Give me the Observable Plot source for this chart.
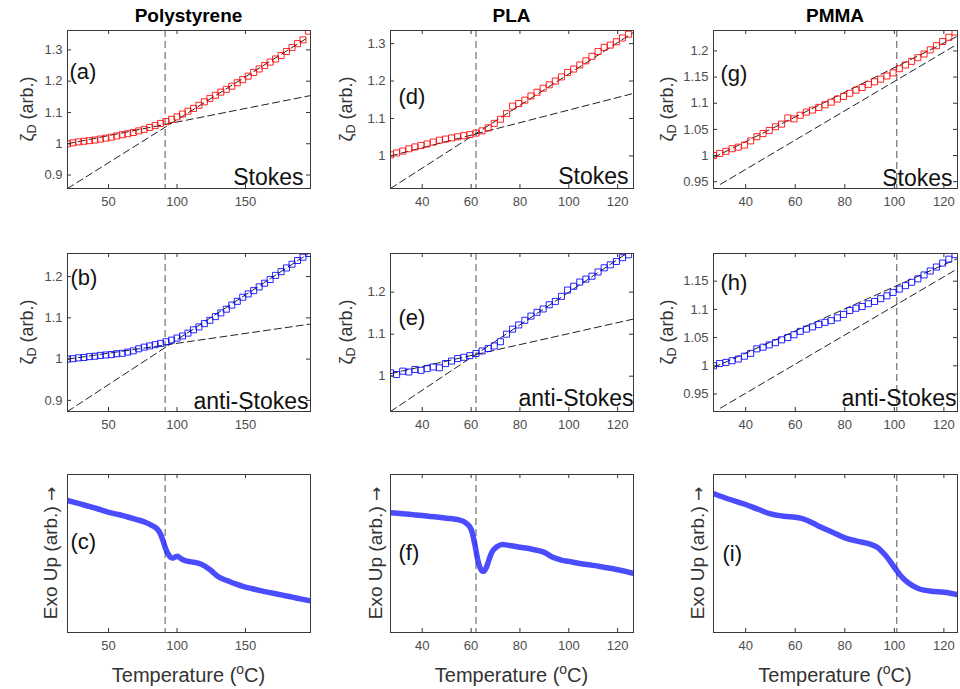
<!DOCTYPE html>
<html>
<head>
<meta charset="utf-8">
<script src="https://cdn.jsdelivr.net/npm/d3@7"></script>
<script src="https://cdn.jsdelivr.net/npm/@observablehq/plot@0.6"></script>
<style>
  html, body { margin: 0; padding: 0; background: #fff; overflow: hidden; }
  #root { position: relative; width: 960px; height: 689px; overflow: hidden; font-family: "Liberation Sans", Arial, sans-serif; }
  .abs { position: absolute; white-space: nowrap; }
  .title { font-weight: bold; font-size: 19px; color: #000; transform: translate(-50%, -50%); }
  .ylab { font-size: 18px; color: #333; transform: translate(-50%, -50%) rotate(-90deg); }
  .xlab { font-size: 20px; color: #333; transform: translate(-50%, -50%); }
  .arrow { font-family: "DejaVu Sans", sans-serif; color: #333; font-size: 17px; }
  sub { font-size: 70%; vertical-align: -0.3em; }
  sup { font-size: 70%; vertical-align: 0.55em; }
</style>
</head>
<body>
<div id="root"></div>
<script>
// ---------------- data ----------------
const materials = ["Polystyrene", "PLA", "PMMA"];
const panelLetters = ["(a)", "(b)", "(c)", "(d)", "(e)", "(f)", "(g)", "(h)", "(i)"];
const ramanTags = ["Stokes", "anti-Stokes"];

// glass transition temperatures (vertical dashed lines)
const psTg = 91.3, plaTg = 62, pmmaTg = 101;

// x tick labels
const psXTicks = [50, 100, 150];
const plaXTicks = [40, 60, 80, 100, 120];
const pmmaXTicks = [40, 60, 80, 100, 120];

// y tick labels
const aYTicks = [0.9, 1, 1.1, 1.2, 1.3];
const bYTicks = [0.9, 1, 1.1, 1.2];
const dYTicks = [1, 1.1, 1.2, 1.3];
const eYTicks = [1, 1.1, 1.2];
const gYTicks = [0.95, 1, 1.05, 1.1, 1.15, 1.2];
const hYTicks = [0.95, 1, 1.05, 1.1, 1.15];

// Polystyrene Raman (temperature, zeta_D)
const psT = [20,24,28,32,36,40,44,48,52,56,60,64,68,72,76,80,84,88,92,96,100,104,108,112,116,120,124,128,132,136,140,144,148,152,156,160,164,168,172,176,180,184,188,192,196];
const psStokes = [1.000,1.003,1.006,1.008,1.010,1.012,1.015,1.018,1.021,1.025,1.029,1.032,1.036,1.041,1.046,1.052,1.058,1.065,1.071,1.078,1.086,1.095,1.104,1.113,1.123,1.134,1.145,1.155,1.165,1.174,1.184,1.195,1.205,1.216,1.228,1.239,1.250,1.261,1.271,1.282,1.295,1.308,1.320,1.332,1.360];
const psAnti = [1.000,1.001,1.003,1.004,1.006,1.007,1.009,1.010,1.011,1.013,1.014,1.017,1.020,1.025,1.029,1.032,1.035,1.038,1.042,1.046,1.051,1.056,1.063,1.071,1.078,1.086,1.094,1.103,1.112,1.121,1.131,1.140,1.150,1.158,1.166,1.175,1.184,1.193,1.203,1.212,1.221,1.230,1.239,1.247,1.256];

// PLA Raman
const plaT = [27,29.5,32,34.5,37,39.5,42,44.5,47,49.5,52,54.5,57,59.5,62,64.5,67,69.5,72,74.5,77,79.5,82,84.5,87,89.5,92,94.5,97,99.5,102,104.5,107,109.5,112,114.5,117,119.5,122,124.5];
const plaStokes = [1.003,1.008,1.013,1.019,1.024,1.028,1.032,1.037,1.042,1.045,1.048,1.051,1.054,1.057,1.061,1.067,1.075,1.087,1.098,1.113,1.133,1.140,1.149,1.160,1.170,1.181,1.190,1.200,1.211,1.223,1.232,1.243,1.254,1.266,1.279,1.290,1.296,1.305,1.315,1.325];
const plaAnti = [1.008,1.004,1.012,1.010,1.016,1.014,1.018,1.022,1.020,1.030,1.036,1.042,1.045,1.049,1.054,1.060,1.066,1.072,1.082,1.100,1.112,1.122,1.133,1.143,1.152,1.160,1.170,1.178,1.190,1.205,1.214,1.224,1.231,1.238,1.248,1.258,1.265,1.273,1.282,1.289];

// PMMA Raman
const pmmaT = [27,29.5,32,34.5,37,39.5,42,44.5,47,49.5,52,54.5,57,59.5,62,64.5,67,69.5,72,74.5,77,79.5,82,84.5,87,89.5,92,94.5,97,99.5,102,104.5,107,109.5,112,114.5,117,119.5,122,124.5];
const pmmaStokes = [1.000,1.004,1.008,1.013,1.016,1.020,1.028,1.036,1.042,1.048,1.055,1.060,1.072,1.070,1.077,1.083,1.087,1.092,1.097,1.102,1.108,1.113,1.119,1.125,1.130,1.136,1.141,1.146,1.152,1.158,1.166,1.173,1.180,1.187,1.194,1.202,1.210,1.218,1.226,1.236];
const pmmaAnti = [1.000,1.004,1.006,1.009,1.012,1.017,1.022,1.030,1.033,1.037,1.041,1.046,1.050,1.055,1.061,1.065,1.069,1.073,1.077,1.080,1.085,1.091,1.098,1.102,1.105,1.110,1.114,1.119,1.124,1.130,1.136,1.142,1.148,1.154,1.161,1.168,1.175,1.182,1.189,1.197];

// linear fits (two end points each: [T, zeta])
const psStokesFitLow = [[20, 1.0], [197.5, 1.154]];
const psStokesFitHigh = [[20, 0.857], [194, 1.335]];
const psAntiFitLow = [[20, 1.0], [197.5, 1.085]];
const psAntiFitHigh = [[20, 0.873], [197.5, 1.259]];
const plaStokesFitLow = [[27, 1.0], [126.5, 1.167]];
const plaStokesFitHigh = [[27, 0.913], [126.5, 1.33]];
const plaAntiFitLow = [[27, 1.006], [126.5, 1.136]];
const plaAntiFitHigh = [[27, 0.916], [126.5, 1.303]];
const pmmaStokesFitLow = [[27, 0.996], [125.5, 1.228]];
const pmmaStokesFitHigh = [[29.8, 0.945], [125.5, 1.213]];
const pmmaAntiFitLow = [[27, 0.997], [125.5, 1.19]];
const pmmaAntiFitHigh = [[29.8, 0.925], [125.5, 1.172]];

// DSC traces (temperature, normalised heat flow, exo up)
const psDscT = [20,30,39,45,51,58,64,70,76,80,83,85,86.6,88,89,90,90.8,91.7,92.7,94,95.2,97,98.9,100.5,102.5,104,106,109,112,116,119.6,122,124.5,127,129.4,133,136.6,142,148.8,155,161,167,173,179,185,191,197.5];
const psDsc = [0.836,0.812,0.790,0.775,0.759,0.745,0.731,0.716,0.700,0.685,0.672,0.660,0.643,0.622,0.600,0.575,0.553,0.530,0.510,0.490,0.476,0.472,0.479,0.482,0.470,0.462,0.455,0.449,0.445,0.437,0.423,0.410,0.395,0.375,0.357,0.340,0.328,0.310,0.290,0.277,0.265,0.254,0.244,0.233,0.222,0.211,0.200];
const plaDscT = [27,32,36,40,45,50,53,55,56.5,58,59.2,60.2,61.1,62,62.8,63.6,64.5,65.3,66.2,67,68,69,70.5,72.5,75,80,85,89.5,93,97,100,104.5,110,114.4,120,126.3];
const plaDsc = [0.758,0.752,0.746,0.740,0.732,0.723,0.718,0.713,0.705,0.692,0.675,0.645,0.590,0.520,0.455,0.413,0.390,0.388,0.410,0.445,0.490,0.520,0.542,0.556,0.553,0.540,0.527,0.510,0.480,0.458,0.450,0.437,0.425,0.413,0.397,0.375];
const pmmaDscT = [27.2,33,40,45,50.1,55.4,59.9,62.5,64.9,67.5,69.8,75,80,85,89.9,93.1,96.5,100,102.5,104.9,107.5,109.9,114.9,120,125.4];
const pmmaDsc = [0.878,0.845,0.810,0.780,0.751,0.736,0.730,0.722,0.709,0.690,0.671,0.635,0.599,0.578,0.561,0.540,0.487,0.413,0.361,0.323,0.295,0.277,0.261,0.255,0.240];

// ---------------- layout ----------------
const colX = [67, 390, 713];
const colW = [243, 243, 244];
const rowY = [30, 253, 474];
const rowH = [158, 158, 158];
const fmt = d => String(+d.toFixed(2));
const pts = (xs, ys) => xs.map((t, i) => ({t, v: ys[i]}));
const seg = a => a.map(([t, v]) => ({t, v}));

const panels = [
  {col:0,row:0,kind:"raman",data:pts(psT,psStokes),color:"#ff0000",xd:[20,197.5],yd:[0.857,1.362],xt:psXTicks,yt:aYTicks,tg:psTg,fits:[psStokesFitLow,psStokesFitHigh],lab:panelLetters[0],lp:[2,41],tag:ramanTags[0],tp:[-7,-4]},
  {col:0,row:1,kind:"raman",data:pts(psT,psAnti),color:"#0000ff",xd:[20,197.5],yd:[0.873,1.256],xt:psXTicks,yt:bYTicks,tg:psTg,fits:[psAntiFitLow,psAntiFitHigh],lab:panelLetters[1],lp:[3,24],tag:ramanTags[1],tp:[-2,-3]},
  {col:0,row:2,kind:"dsc",data:pts(psDscT,psDsc),xd:[20,197.5],xt:psXTicks,tg:psTg,lab:panelLetters[2],lp:[3,67]},
  {col:1,row:0,kind:"raman",data:pts(plaT,plaStokes),color:"#ff0000",xd:[27,126.5],yd:[0.913,1.335],xt:plaXTicks,yt:dYTicks,tg:plaTg,fits:[plaStokesFitLow,plaStokesFitHigh],lab:panelLetters[3],lp:[8,66],tag:ramanTags[0],tp:[-5,-5]},
  {col:1,row:1,kind:"raman",data:pts(plaT,plaAnti),color:"#0000ff",xd:[27,126.5],yd:[0.916,1.292],xt:plaXTicks,yt:eYTicks,tg:plaTg,fits:[plaAntiFitLow,plaAntiFitHigh],lab:panelLetters[4],lp:[8,64],tag:ramanTags[1],tp:[0,-6]},
  {col:1,row:2,kind:"dsc",data:pts(plaDscT,plaDsc),xd:[27,126.5],xt:plaXTicks,tg:plaTg,lab:panelLetters[5],lp:[8,78]},
  {col:2,row:0,kind:"raman",data:pts(pmmaT,pmmaStokes),color:"#ff0000",xd:[27,125.5],yd:[0.937,1.239],xt:pmmaXTicks,yt:gYTicks,tg:pmmaTg,fits:[pmmaStokesFitLow,pmmaStokesFitHigh],lab:panelLetters[6],lp:[7,43],tag:ramanTags[0],tp:[-5,-3]},
  {col:2,row:1,kind:"raman",data:pts(pmmaT,pmmaAnti),color:"#0000ff",xd:[27,125.5],yd:[0.919,1.199],xt:pmmaXTicks,yt:hYTicks,tg:pmmaTg,fits:[pmmaAntiFitLow,pmmaAntiFitHigh],lab:panelLetters[7],lp:[7,29],tag:ramanTags[1],tp:[-1,-6]},
  {col:2,row:2,kind:"dsc",data:pts(pmmaDscT,pmmaDsc),xd:[27,125.5],xt:pmmaXTicks,tg:pmmaTg,lab:panelLetters[8],lp:[9,79]}
];

const root = document.getElementById("root");
const mL = 50, mT = 6, mB = 28;

for (const p of panels) {
  const fw = colW[p.col], fh = rowH[p.row];
  const mR = p.col === 2 ? 3 : 6;
  const isR = p.kind === "raman";
  const yt = isR ? p.yt : [];
  const marks = [
    Plot.ruleX([p.tg], {x: d => d, stroke: "#555", strokeWidth: 1, strokeDasharray: "7,4"})
  ];
  if (isR) {
    for (const f of p.fits) {
      marks.push(Plot.line(seg(f), {x: "t", y: "v", stroke: "#222", strokeWidth: 1, strokeDasharray: "7,4", clip: true}));
    }
    marks.push(Plot.dot(p.data, {x: "t", y: "v", symbol: "square", r: 3.4, stroke: p.color, strokeWidth: 1, strokeOpacity: 0.85, fill: "none", clip: true}));
  } else {
    marks.push(Plot.line(p.data, {x: "t", y: "v", stroke: "#1f1fff", strokeWidth: 5.5, strokeOpacity: 0.8, curve: "catmull-rom", clip: true}));
  }
  // inward ticks on all sides
  marks.push(Plot.ruleX(p.xt, {x: d => d, insetTop: fh - 4, stroke: "#333"}));
  marks.push(Plot.ruleX(p.xt, {x: d => d, insetBottom: fh - 4, stroke: "#333"}));
  if (isR) {
    marks.push(Plot.ruleY(yt, {y: d => d, insetRight: fw - 4, stroke: "#333"}));
    marks.push(Plot.ruleY(yt, {y: d => d, insetLeft: fw - 4, stroke: "#333"}));
  }
  marks.push(Plot.frame({stroke: "#3a3a3a", strokeWidth: 1}));
  marks.push(Plot.text([p.lab], {text: d => d, frameAnchor: "top-left", dx: p.lp[0], dy: p.lp[1], textAnchor: "start", lineAnchor: "middle", fontSize: 22, fill: "#111"}));
  if (isR) {
    marks.push(Plot.text([p.tag], {text: d => d, frameAnchor: "bottom-right", dx: p.tp[0], dy: p.tp[1], textAnchor: "end", lineAnchor: "bottom", fontSize: 23, fill: "#111"}));
  }
  const svg = Plot.plot({
    width: fw + mL + mR,
    height: fh + mT + mB,
    marginLeft: mL, marginRight: mR, marginTop: mT, marginBottom: mB,
    style: {fontFamily: "'Liberation Sans', Arial, sans-serif", fontSize: "13px", color: "#4d4d4d", background: "transparent", overflow: "visible"},
    x: {domain: p.xd, ticks: p.xt, tickSize: 0, tickPadding: 8, tickFormat: fmt, label: null},
    y: isR ? {domain: p.yd, ticks: yt, tickSize: 0, tickPadding: 5, tickFormat: fmt, label: null}
           : {domain: [0, 1], axis: null},
    marks
  });
  svg.style.position = "absolute";
  svg.style.left = (colX[p.col] - mL) + "px";
  svg.style.top = (rowY[p.row] - mT) + "px";
  root.appendChild(svg);
}

// titles
materials.forEach((m, i) => {
  const d = document.createElement("div");
  d.className = "abs title";
  d.textContent = m;
  d.style.left = (colX[i] + colW[i] / 2) + "px";
  d.style.top = "16px";
  root.appendChild(d);
});

// y axis labels
const yLabX = [[28, 28, 51], [347, 347, 376], [668, 668, 698]];
for (let c = 0; c < 3; c++) {
  for (let r = 0; r < 3; r++) {
    const d = document.createElement("div");
    d.className = "abs ylab";
    if (r < 2) d.innerHTML = "&zeta;<sub>D</sub> (arb.)";
    else { d.innerHTML = "Exo Up (arb.) <span class=\"arrow\">&#x2192;&#xFE0E;</span>"; d.style.fontSize = "19px"; }
    d.style.left = yLabX[c][r] + "px";
    d.style.top = (rowY[r] + rowH[r] / 2) + "px";
    root.appendChild(d);
  }
}

// x axis labels
for (let c = 0; c < 3; c++) {
  const d = document.createElement("div");
  d.className = "abs xlab";
  d.innerHTML = "Temperature (<sup>o</sup>C)";
  d.style.left = (colX[c] + colW[c] / 2) + "px";
  d.style.top = "674px";
  root.appendChild(d);
}
</script>
</body>
</html>
